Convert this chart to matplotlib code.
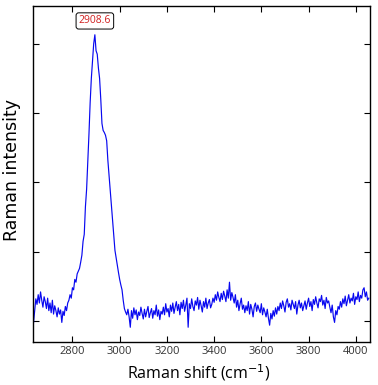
"""Raman spectrum with the C-H stretch peak labelled."""
import matplotlib
matplotlib.use("Agg")
import matplotlib.pyplot as plt
import numpy as np

start_shift = 2635
step_shift = 5
intensity = [
    -30, 150, 320, 240, 380, 260, 420, 300, 200, 350,      # 2635
    280, 180, 330, 150, 260, 120, 300, 100, 220, 150,      # 2685
    60, 190, 100, 160, -20, 140, 80, 210, 150, 260,        # 2735
    300, 380, 330, 480, 450, 600, 560, 680, 720, 760,      # 2785
    850, 950, 1150, 1250, 1650, 1900, 2300, 2700, 3150, 3500,   # 2835
    3750, 4000, 4130, 3900, 3850, 3650, 3500, 3200, 2850, 2750,  # 2885
    2720, 2680, 2600, 2320, 2100, 1900, 1680, 1420, 1200, 1020,  # 2935
    910, 790, 700, 600, 520, 450, 300, 180, 130, 90,       # 2985
    170, 60, -90, 150, 40, 190, 90, 160, 20, 130,          # 3035
    80, 200, 110, 30, 170, 60, 140, 210, 50, 120,          # 3085
    180, 40, 150, 90, 230, 70, 160, 20, 140, 100,          # 3135
    200, 90, 250, 130, 180, 60, 230, 140, 260, 110,        # 3185
    200, 280, 150, 240, 90, 270, 180, 300, 140, 230,       # 3235
    330, -90, 250, 180, 320, 210, 150, 290, 230, 340,      # 3285
    170, 300, 220, 130, 280, 200, 330, 180, 260, 310,      # 3335
    190, 240, 330, 270, 380, 300, 420, 340, 280, 400,      # 3385
    310, 430, 360, 280, 450, 330, 560, 300, 410, 340,      # 3435
    260, 380, 200, 300, 150, 250, 330, 170, 230, 120,      # 3485
    220, 150, 280, 100, 240, 170, 60, 210, 260, 140,       # 3535
    230, 170, 120, 250, 90, 190, 130, 60, 170, 40,         # 3585
    -60, 110, 30, 150, 70, 190, 100, 210, 150, 260,        # 3635
    180, 290, 220, 130, 270, 320, 200, 250, 160, 300,      # 3685
    240, 180, 280, 100, 230, 300, 190, 260, 150, 220,      # 3735
    290, 170, 260, 330, 210, 280, 150, 310, 240, 350,      # 3785
    260, 190, 320, 280, 370, 230, 300, 180, 340, 260,      # 3835
    290, 200, 120, 230, 60, -20, 150, 90, 210, 170,        # 3885
    280, 200, 320, 250, 360, 220, 300, 380, 260, 330,      # 3935
    290, 400, 240, 350, 310, 420, 280, 370, 330, 450,      # 3985
    480, 350, 420, 300, 330,                               # 4035
]
peak_label = "2908.6"
x_ticks = [2800, 3000, 3200, 3400, 3600, 3800, 4000]
y_ticks = [0, 1000, 2000, 3000, 4000]

wavenumber = start_shift + step_shift * np.arange(len(intensity))
intensity = np.asarray(intensity, dtype=float)

# the source image is squeezed sideways, so horizontal text uses a narrow face
narrow = ["Liberation Sans Narrow", "Open Sans", "DejaVu Sans"]
plt.rcParams["font.family"] = narrow
plt.rcParams["mathtext.fontset"] = "custom"
plt.rcParams["mathtext.rm"] = "Liberation Sans Narrow"
plt.rcParams["mathtext.it"] = "Liberation Sans Narrow"
plt.rcParams["mathtext.bf"] = "Liberation Sans Narrow"

fig = plt.figure(figsize=(3.78, 3.85), dpi=100)
ax = fig.add_axes([0.0873, 0.1109, 0.8915, 0.8735])

ax.plot(wavenumber, intensity, color="#0808f0", linewidth=0.85)

i_peak = int(np.argmax(intensity))
ax.annotate(
    peak_label,
    xy=(wavenumber[i_peak], intensity[i_peak]),
    xytext=(0, 6), textcoords="offset points",
    ha="center", va="bottom", fontsize=7.5, color="#d02020",
    bbox=dict(boxstyle="round,pad=0.25", facecolor="white",
              edgecolor="black", linewidth=0.7),
)

ax.set_xlim(2633, 4060)
ax.set_ylim(-307, 4545)
ax.set_xticks(x_ticks)
ax.set_yticks(y_ticks)
ax.set_yticklabels([])
ax.tick_params(direction="in", length=4, width=0.8, top=True, right=True,
               labelsize=8, labelcolor="#333333", pad=3)
for s in ax.spines.values():
    s.set_linewidth(1.0)

ax.set_xlabel("Raman shift (cm$^{\\mathrm{-1}}$)", fontsize=11.5, va="center")
ax.xaxis.set_label_coords(0.493, -0.09)
ax.set_ylabel("Raman intensity", fontsize=12.5, va="center",
              family=["DejaVu Sans"])
ax.yaxis.set_label_coords(-0.063, 0.512)

fig.savefig("out.png", dpi=100, facecolor="white")
